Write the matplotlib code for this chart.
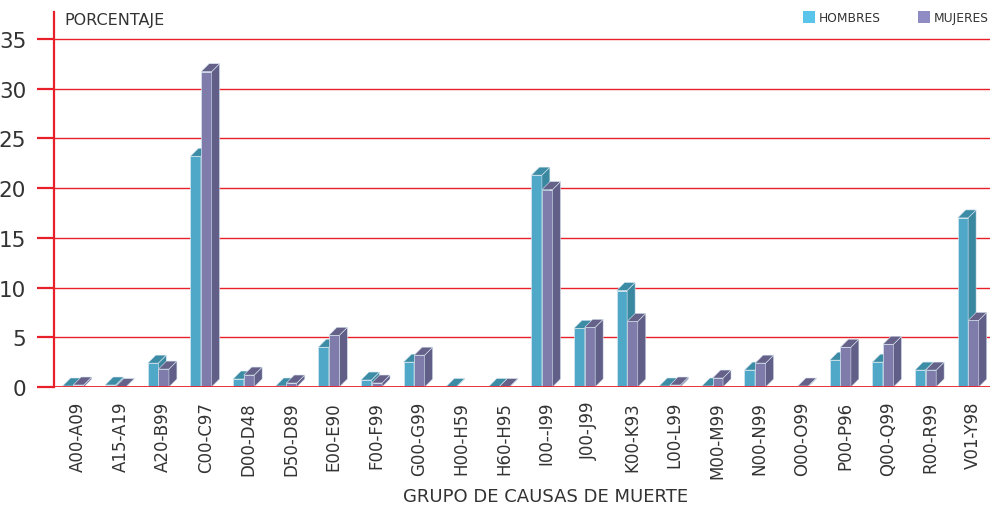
import matplotlib
matplotlib.use("Agg")
import matplotlib.pyplot as plt
from matplotlib.patches import Polygon, Rectangle

categories = ["A00-A09", "A15-A19", "A20-B99", "C00-C97", "D00-D48", "D50-D89",
              "E00-E90", "F00-F99", "G00-G99", "H00-H59", "H60-H95", "I00--I99",
              "J00-J99", "K00-K93", "L00-L99", "M00-M99", "N00-N99", "O00-O99",
              "P00-P96", "Q00-Q99", "R00-R99", "V01-Y98"]
hombres = [0.1, 0.2, 2.4, 23.2, 0.8, 0.1, 4.0, 0.7, 2.5, 0.05, 0.05, 21.3,
           5.9, 9.7, 0.1, 0.1, 1.7, 0.0, 2.7, 2.5, 1.7, 17.0]
mujeres = [0.2, 0.05, 1.8, 31.7, 1.2, 0.4, 5.2, 0.4, 3.2, 0.0, 0.05, 19.85,
           6.0, 6.6, 0.2, 0.9, 2.4, 0.1, 4.0, 4.3, 1.7, 6.7]
series_names = ["HOMBRES", "MUJERES"]

W, H = 998, 510
fig = plt.figure(figsize=(W / 100, H / 100), dpi=100)
ax_l, ax_r, ax_b, ax_t = 54, 990, 388, 13
ax = fig.add_axes([ax_l / W, 1 - ax_b / H, (ax_r - ax_l) / W, (ax_b - ax_t) / H])

n = len(categories)
xmin, xmax = -0.56, n - 1 + 0.4
ymin, ymax = 0, 37.7
ax.set_xlim(xmin, xmax)
ax.set_ylim(ymin, ymax)

px_x = (ax_r - ax_l) / (xmax - xmin)
px_y = (ax_b - ax_t) / (ymax - ymin)
depth_px = 8
ddx = depth_px / px_x
ddy = depth_px / px_y
bw = 10.5 / px_x

red = "#e8202a"
for v in range(5, 40, 5):
    ax.axhline(v, color=red, lw=1.0, zorder=0.5)

styles = [
    dict(front="#4fa8c8", top="#3d8ca6", side="#3a87a0", offset=-0.36),
    dict(front="#7f7baa", top="#656189", side="#615e88", offset=-0.11),
]
for s, vals in enumerate([hombres, mujeres]):
    st = styles[s]
    for i, v in enumerate(vals):
        if v <= 0:
            continue
        x0 = i + st["offset"]
        x1 = x0 + bw
        z = 2 + s
        ax.add_patch(Rectangle((x0, 0), bw, v, facecolor=st["front"],
                               edgecolor="#d8e6f0", lw=0.5, zorder=z))
        ax.add_patch(Polygon([(x1, 0), (x1 + ddx, ddy), (x1 + ddx, v + ddy), (x1, v)],
                             closed=True, facecolor=st["side"], edgecolor="#d8e6f0",
                             lw=0.4, zorder=z))
        ax.add_patch(Polygon([(x0, v), (x1, v), (x1 + ddx, v + ddy), (x0 + ddx, v + ddy)],
                             closed=True, facecolor=st["top"], edgecolor="#d8e6f0",
                             lw=0.4, zorder=z))

ax.axhline(0, color=red, lw=2.0, zorder=5)

for side in ["top", "right", "bottom"]:
    ax.spines[side].set_visible(False)
ax.spines["left"].set_color(red)
ax.spines["left"].set_linewidth(1.6)

ax.set_yticks(range(0, 40, 5))
ax.tick_params(axis="y", colors=red, length=12, width=1.6, direction="out",
               labelcolor="#333333", labelsize=15.5, pad=8)
ax.set_xticks(range(n))
ax.set_xticklabels(categories, rotation=90, fontsize=12, color="#333333")
ax.tick_params(axis="x", length=0, pad=10)

fig.text(64 / W, 1 - 21 / H, "PORCENTAJE", fontsize=11.5, color="#333333",
         ha="left", va="center")
fig.text(546 / W, 1 - 497 / H, "GRUPO DE CAUSAS DE MUERTE", fontsize=13,
         color="#333333", ha="center", va="center")

leg_colors = ["#5bc4ea", "#8f8cc4"]
leg_x = [803, 918]
for name, c, lx in zip(series_names, leg_colors, leg_x):
    fig.patches.append(Rectangle((lx / W, 1 - 24 / H), 12 / W, 12 / H,
                                 transform=fig.transFigure, facecolor=c,
                                 edgecolor="none"))
    fig.text((lx + 16) / W, 1 - 18.5 / H, name, fontsize=8.8, color="#333333",
             ha="left", va="center")

fig.savefig("out.png", dpi=100)
